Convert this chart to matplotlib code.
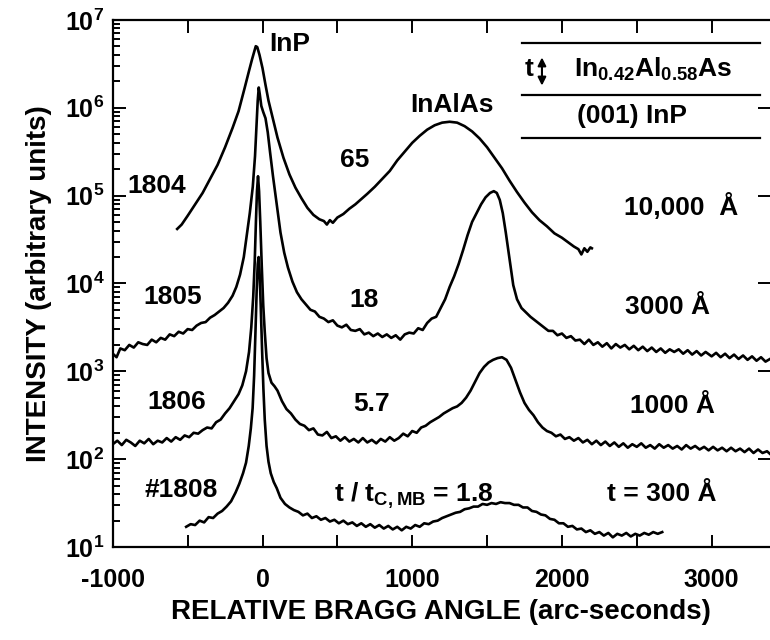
import numpy as np
import matplotlib
matplotlib.use("Agg")
import matplotlib.pyplot as plt
from matplotlib.ticker import LogLocator, MultipleLocator, NullFormatter

plt.rcParams["font.family"] = ["Liberation Sans", "DejaVu Sans"]
plt.rcParams["font.weight"] = "bold"
plt.rcParams["axes.labelweight"] = "bold"
plt.rcParams["mathtext.fontset"] = "custom"
plt.rcParams["mathtext.rm"] = "Liberation Sans:bold"
plt.rcParams["mathtext.bf"] = "Liberation Sans:bold"
plt.rcParams["mathtext.default"] = "bf"
plt.rcParams["axes.unicode_minus"] = False

# relative Bragg angle (arc-sec) and log10 intensity
x_1804 = [-570, -540, -500, -450, -400, -350, -300, -250, -200, -160, -120, -90, -70, -55, -45,
          -35, -20, 0, 20, 40, 70, 100, 140, 180, 220, 260, 300, 340, 380, 410, 430, 450, 470,
          500, 540, 580, 620, 660, 700, 750, 800, 850, 900, 950, 1000, 1050, 1100, 1150, 1200,
          1250, 1300, 1350, 1400, 1450, 1500, 1550, 1600, 1650, 1700, 1750, 1800, 1850, 1900,
          1950, 2000, 2040, 2080, 2110, 2130, 2150, 2170, 2190, 2200]
log_1804 = [4.62, 4.67, 4.77, 4.90, 5.03, 5.19, 5.35, 5.55, 5.77, 5.96, 6.22, 6.42, 6.55, 6.64, 6.70,
            6.69, 6.60, 6.45, 6.26, 6.08, 5.87, 5.66, 5.43, 5.24, 5.09, 4.97, 4.86, 4.78, 4.73, 4.71,
            4.67, 4.72, 4.69, 4.75, 4.79, 4.85, 4.90, 4.96, 5.02, 5.10, 5.19, 5.28, 5.40, 5.50, 5.60,
            5.68, 5.75, 5.80, 5.83, 5.84, 5.83, 5.79, 5.73, 5.65, 5.55, 5.43, 5.31, 5.17, 5.04, 4.92,
            4.81, 4.72, 4.65, 4.57, 4.52, 4.47, 4.42, 4.39, 4.33, 4.40, 4.36, 4.41, 4.40]

x_1805 = [-1000, -975, -950, -920, -890, -860, -830, -800, -770, -740, -710, -680, -650, -620,
          -590, -560, -530, -500, -470, -440, -410, -380, -350, -320, -290, -260, -230, -200,
          -175, -150, -125, -105, -85, -65, -50, -40, -32, -25, -18, -8, 5, 20, 35, 50, 70, 95,
          120, 145, 170, 200, 230, 260, 290, 320, 350, 380, 410, 440, 470, 500, 530, 560, 590,
          620, 650, 680, 710, 740, 770, 800, 830, 860, 890, 920, 950, 980, 1010, 1040, 1070,
          1100, 1130, 1160, 1190, 1220, 1250, 1280, 1310, 1340, 1370, 1400, 1430, 1460, 1490,
          1520, 1545, 1565, 1585, 1605, 1625, 1650, 1675, 1700, 1730, 1760, 1790, 1820, 1850,
          1880, 1910, 1940, 1970, 2000, 2030, 2060, 2090, 2120, 2150, 2180, 2210, 2240, 2270,
          2300, 2330, 2360, 2390, 2420, 2450, 2480, 2510, 2540, 2570, 2600, 2630, 2660, 2690,
          2720, 2750, 2780, 2810, 2840, 2870, 2900, 2930, 2960, 3000, 3030, 3060, 3090, 3120,
          3150, 3180, 3210, 3240, 3270, 3300, 3330, 3360, 3390]
log_1805 = [3.20, 3.16, 3.26, 3.24, 3.30, 3.27, 3.33, 3.31, 3.30, 3.36, 3.33, 3.38, 3.36, 3.42,
            3.40, 3.45, 3.43, 3.48, 3.47, 3.52, 3.55, 3.56, 3.61, 3.64, 3.68, 3.72, 3.78, 3.86,
            3.96, 4.10, 4.30, 4.55, 4.80, 5.10, 5.45, 5.80, 6.08, 6.23, 6.15, 6.02, 5.95, 5.88,
            5.72, 5.50, 5.22, 4.90, 4.58, 4.35, 4.18, 4.02, 3.90, 3.82, 3.76, 3.70, 3.68, 3.62,
            3.60, 3.56, 3.58, 3.52, 3.50, 3.53, 3.47, 3.46, 3.48, 3.42, 3.44, 3.40, 3.43, 3.39,
            3.42, 3.38, 3.41, 3.36, 3.42, 3.44, 3.43, 3.49, 3.47, 3.55, 3.60, 3.62, 3.72, 3.82,
            3.96, 4.08, 4.22, 4.38, 4.55, 4.70, 4.80, 4.90, 4.98, 5.03, 5.05, 5.03, 4.95, 4.80,
            4.58, 4.28, 3.98, 3.82, 3.72, 3.67, 3.62, 3.58, 3.54, 3.50, 3.46, 3.46, 3.41, 3.43,
            3.38, 3.40, 3.35, 3.36, 3.31, 3.36, 3.30, 3.33, 3.28, 3.32, 3.26, 3.31, 3.27, 3.30,
            3.25, 3.29, 3.24, 3.28, 3.23, 3.27, 3.22, 3.26, 3.21, 3.25, 3.22, 3.25, 3.20, 3.24,
            3.19, 3.23, 3.18, 3.22, 3.17, 3.21, 3.16, 3.20, 3.15, 3.19, 3.14, 3.18, 3.13, 3.17,
            3.12, 3.16, 3.11, 3.14]

x_1806 = [-1000, -970, -940, -910, -880, -850, -820, -790, -760, -730, -700, -670, -640, -610,
          -580, -550, -520, -490, -460, -430, -400, -370, -340, -310, -280, -250, -220, -190,
          -160, -135, -110, -90, -75, -62, -52, -44, -37, -30, -23, -15, -5, 5, 15, 27, 40, 60,
          80, 100, 130, 160, 190, 220, 250, 280, 310, 340, 370, 400, 430, 460, 490, 520, 550,
          580, 610, 640, 670, 700, 730, 760, 790, 820, 850, 880, 910, 940, 970, 1000, 1030,
          1060, 1090, 1120, 1150, 1180, 1210, 1240, 1270, 1300, 1330, 1360, 1390, 1420, 1450,
          1480, 1510, 1540, 1570, 1600, 1630, 1660, 1690, 1720, 1750, 1780, 1810, 1840, 1870,
          1900, 1930, 1960, 1990, 2020, 2050, 2080, 2110, 2140, 2170, 2200, 2230, 2260, 2290,
          2320, 2350, 2380, 2410, 2440, 2470, 2500, 2530, 2560, 2590, 2620, 2650, 2680, 2710,
          2740, 2770, 2800, 2830, 2860, 2890, 2920, 2950, 2980, 3010, 3040, 3070, 3100, 3130,
          3160, 3190, 3220, 3250, 3280, 3310, 3340, 3370, 3390]
log_1806 = [2.17, 2.21, 2.16, 2.22, 2.19, 2.15, 2.21, 2.18, 2.23, 2.17, 2.21, 2.19, 2.24, 2.20,
            2.25, 2.22, 2.27, 2.25, 2.30, 2.29, 2.33, 2.36, 2.35, 2.42, 2.45, 2.52, 2.58, 2.66,
            2.74, 2.84, 3.00, 3.22, 3.50, 3.85, 4.25, 4.70, 5.05, 5.22, 5.05, 4.70, 4.20, 3.75,
            3.45, 3.15, 2.98, 2.87, 2.83, 2.78, 2.66, 2.57, 2.52, 2.45, 2.40, 2.38, 2.33, 2.35,
            2.28, 2.27, 2.31, 2.24, 2.26, 2.21, 2.25, 2.20, 2.23, 2.19, 2.24, 2.19, 2.22, 2.18,
            2.23, 2.20, 2.25, 2.21, 2.24, 2.29, 2.26, 2.32, 2.30, 2.36, 2.38, 2.42, 2.45, 2.48,
            2.52, 2.55, 2.58, 2.60, 2.64, 2.70, 2.78, 2.88, 2.98, 3.05, 3.10, 3.13, 3.15, 3.16,
            3.13, 3.04, 2.90, 2.76, 2.64, 2.56, 2.50, 2.42, 2.36, 2.32, 2.30, 2.26, 2.28, 2.23,
            2.25, 2.21, 2.24, 2.19, 2.22, 2.17, 2.21, 2.16, 2.20, 2.15, 2.19, 2.14, 2.18, 2.13,
            2.17, 2.14, 2.18, 2.13, 2.16, 2.12, 2.17, 2.13, 2.16, 2.12, 2.15, 2.11, 2.16, 2.12,
            2.15, 2.11, 2.14, 2.10, 2.14, 2.10, 2.13, 2.09, 2.13, 2.09, 2.12, 2.08, 2.12, 2.07,
            2.11, 2.07, 2.09, 2.06]

x_1808 = [-510, -480, -450, -420, -390, -360, -330, -300, -270, -240, -210, -180, -155, -130,
          -110, -92, -78, -66, -56, -47, -39, -32, -26, -20, -12, -3, 6, 15, 27, 40, 55, 75, 95,
          120, 150, 180, 210, 240, 270, 300, 330, 360, 390, 420, 450, 480, 510, 540, 570, 600,
          630, 660, 690, 720, 750, 780, 810, 840, 870, 900, 930, 960, 990, 1020, 1050, 1080,
          1110, 1140, 1170, 1200, 1230, 1260, 1290, 1320, 1350, 1380, 1410, 1440, 1470, 1500,
          1530, 1560, 1590, 1620, 1650, 1680, 1710, 1740, 1770, 1800, 1830, 1860, 1890, 1920,
          1950, 1980, 2010, 2040, 2070, 2100, 2130, 2160, 2190, 2220, 2250, 2280, 2310, 2340,
          2370, 2400, 2430, 2460, 2490, 2520, 2550, 2580, 2610, 2640, 2670]
log_1808 = [1.23, 1.26, 1.25, 1.30, 1.28, 1.34, 1.33, 1.38, 1.41, 1.46, 1.52, 1.62, 1.72, 1.84,
            1.96, 2.15, 2.35, 2.58, 2.95, 3.45, 3.92, 4.22, 4.30, 4.15, 3.75, 3.25, 2.80, 2.45,
            2.15, 1.97, 1.84, 1.74, 1.67, 1.56, 1.49, 1.45, 1.42, 1.40, 1.36, 1.38, 1.33, 1.35,
            1.31, 1.33, 1.29, 1.31, 1.27, 1.30, 1.26, 1.28, 1.24, 1.27, 1.23, 1.26, 1.22, 1.25,
            1.21, 1.24, 1.20, 1.23, 1.19, 1.23, 1.21, 1.25, 1.23, 1.27, 1.26, 1.29, 1.30, 1.33,
            1.35, 1.37, 1.39, 1.40, 1.43, 1.44, 1.46, 1.46, 1.49, 1.48, 1.50, 1.49, 1.51, 1.50,
            1.50, 1.48, 1.48, 1.45, 1.45, 1.41, 1.40, 1.37, 1.36, 1.32, 1.31, 1.27, 1.27, 1.23,
            1.24, 1.20, 1.21, 1.17, 1.19, 1.15, 1.17, 1.13, 1.16, 1.11, 1.15, 1.13, 1.16, 1.12,
            1.15, 1.13, 1.16, 1.14, 1.17, 1.15, 1.17]

fig = plt.figure(figsize=(7.7, 6.4), dpi=100)
ax = fig.add_axes([0.1465, 0.1453, 0.8535, 0.8237])

for xs, ls in [(x_1804, log_1804), (x_1805, log_1805), (x_1806, log_1806), (x_1808, log_1808)]:
    ax.plot(xs, 10 ** np.array(ls), color="black", lw=1.9)

ax.set_yscale("log")
ax.set_xlim(-1000, 3390)
ax.set_ylim(10, 1e7)
ax.xaxis.set_major_locator(MultipleLocator(1000))
ax.xaxis.set_minor_locator(MultipleLocator(500))
ax.yaxis.set_major_locator(LogLocator(base=10, numticks=10))
ax.yaxis.set_minor_locator(LogLocator(base=10, subs=np.arange(2, 10), numticks=10))
ax.yaxis.set_minor_formatter(NullFormatter())
ax.tick_params(which="both", direction="in", top=True, right=True, width=1.4, labelsize=18)
ax.tick_params(which="major", length=9)
ax.tick_params(which="minor", length=5)
ax.tick_params(axis="x", which="minor", length=9)
ax.tick_params(axis="x", pad=15)
ax.tick_params(axis="y", pad=6)
ax.tick_params(axis="y", which="minor", right=False)
ax.spines["right"].set_visible(False)
for s in ["left", "bottom", "top"]:
    ax.spines[s].set_linewidth(1.6)

ax.set_xlabel("RELATIVE BRAGG ANGLE (arc-seconds)", fontsize=20, labelpad=5)
ax.set_ylabel("INTENSITY (arbitrary units)", fontsize=20, labelpad=9)

fs = 19
ax.text(183, 10 ** 6.72, "InP", fontsize=fs, ha="center", va="center")
ax.text(1264, 10 ** 6.03, "InAlAs", fontsize=fs, ha="center", va="center")
ax.text(617, 10 ** 5.41, "65", fontsize=fs, ha="center", va="center")
ax.text(-707, 10 ** 5.11, "1804", fontsize=fs, ha="center", va="center")
ax.text(2793, 10 ** 4.87, "10,000  Å", fontsize=fs, ha="center", va="center")
ax.text(-597, 10 ** 3.85, "1805", fontsize=fs, ha="center", va="center")
ax.text(678, 10 ** 3.81, "18", fontsize=fs, ha="center", va="center")
ax.text(2708, 10 ** 3.73, "3000 Å", fontsize=fs, ha="center", va="center")
ax.text(-572, 10 ** 2.65, "1806", fontsize=fs, ha="center", va="center")
ax.text(731, 10 ** 2.63, "5.7", fontsize=fs, ha="center", va="center")
ax.text(2740, 10 ** 2.61, "1000 Å", fontsize=fs, ha="center", va="center")
ax.text(-545, 10 ** 1.65, "#1808", fontsize=fs, ha="center", va="center")
ax.text(477, 10 ** 1.514, r"t / t$_{C,MB}$ = 1.8", fontsize=fs, ha="left", va="baseline")
ax.text(2666, 10 ** 1.60, "t = 300 Å", fontsize=fs, ha="center", va="center")

# layer sketch, top right
for fy in [0.956, 0.858, 0.776]:
    ax.plot([0.623, 0.985], [fy, fy], transform=ax.transAxes, color="black", lw=1.6, clip_on=False)
ax.text(0.634, 0.906, "t", transform=ax.transAxes, fontsize=fs, ha="center", va="center")
ax.annotate("", xy=(0.653, 0.870), xytext=(0.653, 0.934), xycoords="axes fraction",
            arrowprops=dict(arrowstyle="<|-|>", color="black", lw=1.5, mutation_scale=12))
ax.text(0.822, 0.906, r"In$_{0.42}$Al$_{0.58}$As", transform=ax.transAxes, fontsize=fs,
        ha="center", va="center")
ax.text(0.790, 0.817, "(001) InP", transform=ax.transAxes, fontsize=fs, ha="center", va="center")

fig.savefig("out.png", dpi=100)
